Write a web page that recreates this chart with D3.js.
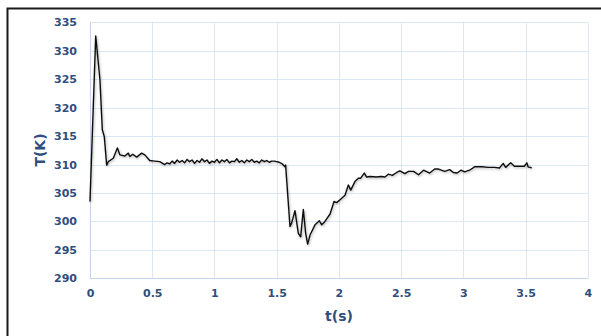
<!DOCTYPE html>
<html>
<head>
<meta charset="utf-8">
<script src="https://cdn.jsdelivr.net/npm/d3@7/dist/d3.min.js"></script>
<style>
  html, body { margin: 0; padding: 0; background: #fff; }
  svg { display: block; }
</style>
</head>
<body>
<svg id="chart" width="601" height="336"></svg>
<script>
// Temperature history T(K) versus time t(s)
const times = [
  0.000, 0.046, 0.080, 0.099, 0.115, 0.134, 0.147, 0.187, 0.220, 0.240,
  0.280, 0.308, 0.320, 0.343, 0.375, 0.415, 0.440, 0.480, 0.520, 0.560,
  0.600, 0.620, 0.640, 0.660, 0.680, 0.700, 0.720, 0.740, 0.760, 0.780,
  0.800, 0.820, 0.840, 0.860, 0.880, 0.900, 0.920, 0.940, 0.960, 0.980,
  1.000, 1.020, 1.040, 1.060, 1.080, 1.100, 1.120, 1.140, 1.160, 1.180,
  1.200, 1.220, 1.240, 1.260, 1.280, 1.300, 1.320, 1.340, 1.360, 1.380,
  1.400, 1.420, 1.440, 1.460, 1.480, 1.500, 1.520, 1.545, 1.567, 1.572,
  1.607, 1.620, 1.647, 1.674, 1.693, 1.714, 1.733, 1.749, 1.768, 1.808,
  1.843, 1.862, 1.888, 1.929, 1.961, 1.982, 2.009, 2.049, 2.076, 2.095,
  2.129, 2.156, 2.175, 2.204, 2.223, 2.250, 2.300, 2.340, 2.370, 2.397,
  2.430, 2.464, 2.490, 2.530, 2.560, 2.600, 2.640, 2.680, 2.730, 2.770,
  2.800, 2.850, 2.890, 2.920, 2.950, 2.980, 3.010, 3.050, 3.090, 3.150,
  3.200, 3.250, 3.290, 3.320, 3.340, 3.380, 3.410, 3.450, 3.490, 3.510,
  3.520, 3.550
];
const temps = [
  303.5, 332.6, 324.9, 316.1, 314.9, 309.9, 310.5, 311.1, 312.9, 311.7,
  311.5, 312.0, 311.4, 311.8, 311.3, 312.0, 311.7, 310.7, 310.6, 310.5,
  310.0, 310.3, 310.1, 310.6, 310.2, 310.8, 310.4, 310.7, 310.3, 310.9,
  310.5, 310.8, 310.2, 310.7, 310.4, 311.0, 310.5, 310.8, 310.2, 310.6,
  310.4, 310.9, 310.3, 310.8, 310.5, 310.9, 310.3, 310.6, 310.5, 311.0,
  310.4, 310.7, 310.3, 310.8, 310.5, 310.9, 310.4, 310.6, 310.3, 310.8,
  310.5, 310.7, 310.4, 310.6, 310.6, 310.5, 310.4, 310.1, 309.6, 309.9,
  299.1, 299.7, 301.9, 297.9, 297.3, 302.1, 297.9, 296.0, 297.6, 299.4,
  300.1, 299.4, 300.0, 301.3, 303.5, 303.3, 303.8, 304.6, 306.4, 305.5,
  307.0, 307.6, 307.6, 308.5, 307.8, 307.9, 307.8, 307.9, 307.8, 308.3,
  308.1, 308.6, 308.9, 308.4, 308.8, 308.8, 308.2, 309.0, 308.5, 309.2,
  309.2, 308.8, 309.1, 308.6, 308.5, 309.0, 308.7, 309.0, 309.6, 309.6,
  309.5, 309.5, 309.4, 310.2, 309.5, 310.3, 309.7, 309.7, 309.7, 310.3,
  309.6, 309.4
];
const xTicks = [0, 0.5, 1, 1.5, 2, 2.5, 3, 3.5, 4];
const yTicks = [290, 295, 300, 305, 310, 315, 320, 325, 330, 335];
const xTitle = "t(s)";
const yTitle = "T(K)";

const data = times.map((t, i) => ({ t, T: temps[i] }));

const svg = d3.select("#chart");
const plotLeft = 90, plotRight = 587.8, plotTop = 22.3, plotBottom = 278.3;
const labelColor = "#2F4E7E";
const gridColor = "#DCE7F4";
const font = "'DejaVu Sans', Verdana, sans-serif";

const x = d3.scaleLinear().domain([0, 4]).range([plotLeft, plotRight]);
const y = d3.scaleLinear().domain([290, 335]).range([plotBottom, plotTop]);

// outer frame
svg.append("rect")
  .attr("x", 7.5).attr("y", 8.5)
  .attr("width", 605).attr("height", 340)
  .attr("fill", "none").attr("stroke", "#1a1a1a").attr("stroke-width", 2);

// drop shadow for the curve
const defs = svg.append("defs");
const f = defs.append("filter").attr("id", "shadow")
  .attr("x", "-5%").attr("y", "-5%").attr("width", "110%").attr("height", "110%");
f.append("feDropShadow").attr("dx", 0.8).attr("dy", 1.2)
  .attr("stdDeviation", 0.9).attr("flood-color", "#000").attr("flood-opacity", 0.3);

// gridlines
svg.append("g").selectAll("line").data(yTicks).join("line")
  .attr("x1", plotLeft).attr("x2", plotRight)
  .attr("y1", d => Math.round(y(d)) + 0.5).attr("y2", d => Math.round(y(d)) + 0.5)
  .attr("stroke", d => d === 290 ? "#C5D6EC" : gridColor).attr("stroke-width", 1);
svg.append("g").selectAll("line").data(xTicks).join("line")
  .attr("y1", plotTop).attr("y2", plotBottom)
  .attr("x1", d => Math.round(x(d)) + 0.5).attr("x2", d => Math.round(x(d)) + 0.5)
  .attr("stroke", d => d === 0 ? "#C5D6EC" : gridColor).attr("stroke-width", 1);

// axes (labels only)
const yAxis = d3.axisLeft(y).tickValues(yTicks).tickSize(0).tickPadding(13);
const gy = svg.append("g").attr("transform", `translate(${plotLeft},0)`).call(yAxis);
gy.select(".domain").remove();
gy.selectAll("text").attr("fill", labelColor)
  .style("font-family", font).style("font-weight", "bold").style("font-size", "11px");

const xAxis = d3.axisBottom(x).tickValues(xTicks).tickSize(0).tickPadding(11)
  .tickFormat(d3.format("~g"));
const gx = svg.append("g").attr("transform", `translate(0,${plotBottom})`).call(xAxis);
gx.select(".domain").remove();
gx.selectAll("text").attr("fill", labelColor)
  .style("font-family", font).style("font-weight", "bold").style("font-size", "11px");

// axis titles
svg.append("text")
  .attr("x", 339).attr("y", 321)
  .attr("text-anchor", "middle")
  .attr("fill", labelColor)
  .style("font-family", font).style("font-weight", "bold").style("font-size", "14px")
  .text(xTitle);
svg.append("text")
  .attr("transform", "translate(45,150) rotate(-90)")
  .attr("text-anchor", "middle")
  .attr("fill", labelColor)
  .style("font-family", font).style("font-weight", "bold").style("font-size", "14px")
  .text(yTitle);

// temperature curve
const line = d3.line().x(d => x(d.t)).y(d => y(d.T));
svg.append("path")
  .datum(data)
  .attr("d", line)
  .attr("fill", "none")
  .attr("stroke", "#111")
  .attr("stroke-width", 1.4)
  .attr("stroke-linejoin", "round")
  .attr("filter", "url(#shadow)");
</script>
</body>
</html>
